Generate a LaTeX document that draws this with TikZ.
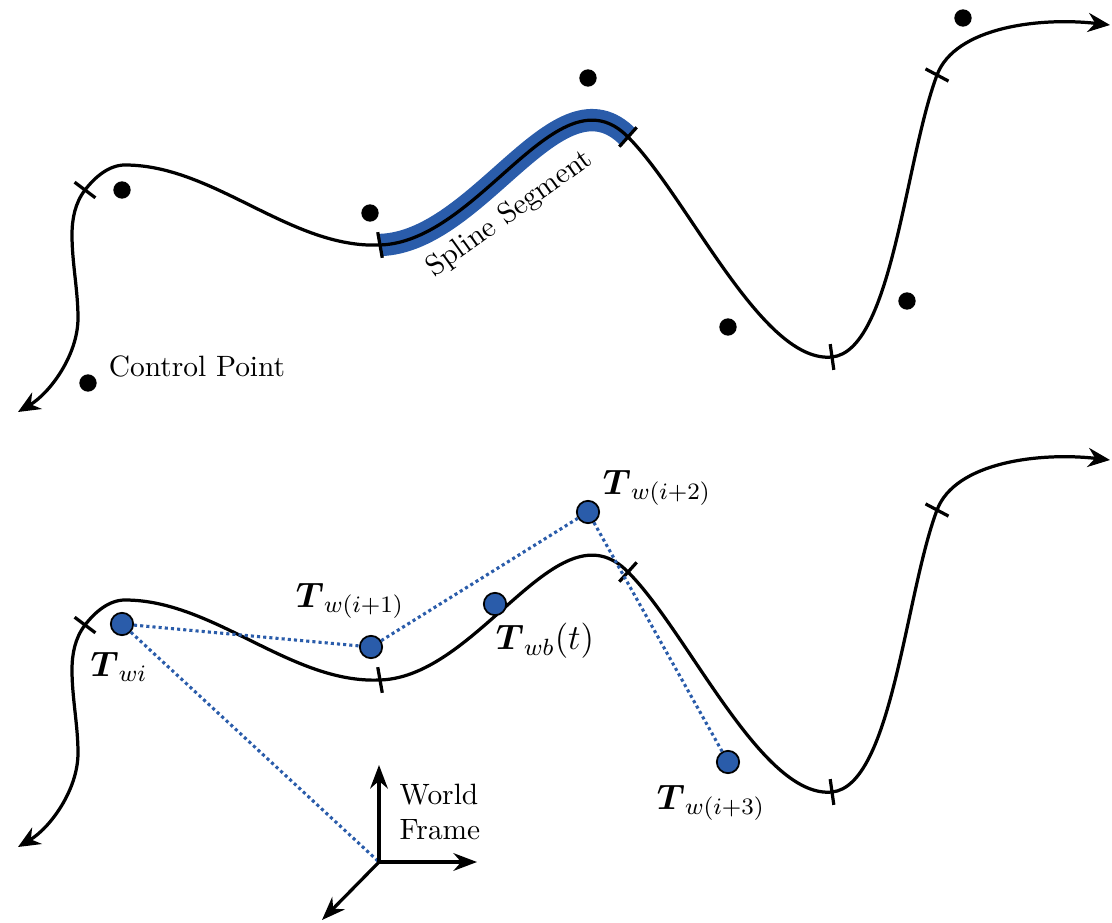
\documentclass[tikz,border=0pt]{standalone}
\usepackage{amsmath}
\usetikzlibrary{arrows.meta,calc}
\definecolor{segblue}{HTML}{2A5CAA}
\tikzset{
  curve/.style={line width=1.1pt, line join=round, {Stealth[length=7.5pt,width=6.5pt]}-{Stealth[length=7.5pt,width=6.5pt]}},
  knot/.style={line width=1.1pt},
  cpoint/.style={circle, fill=black, inner sep=0pt, minimum size=5.9pt},
  pose/.style={circle, fill=segblue, draw=black, line width=0.6pt, inner sep=0pt, minimum size=7.6pt},
  link/.style={segblue, line width=1.05pt, dash pattern=on 1.05pt off 1.05pt},
  axis/.style={line width=1.1pt, -{Stealth[length=8pt,width=6pt]}},
  lbl/.style={font=\large, inner sep=0pt}
}
\newcommand\drawspline[1]{%
  \coordinate (#1A) at (18,412);
  \coordinate (#1D) at (85,190);
  \coordinate (#1F) at (380,245);
  \coordinate (#1G) at (628,137);
  \coordinate (#1H) at (832,357);
  \coordinate (#1I) at (937,75);
  \coordinate (#1J) at (1110,25);
  \draw[curve] (#1A) .. controls (50,393) and (78,355) .. (78,318)
    .. controls (78,290) and (72,263) .. (72,235)
    .. controls (72,219) and (75,203) .. (#1D)
    .. controls (95,177) and (109,165) .. (125,165)
    .. controls (214,165) and (291,249) .. (#1F)
    .. controls (480,242) and (558,66) .. (#1G)
    .. controls (688,197) and (762,364) .. (#1H)
    .. controls (892,351) and (905,160) .. (#1I)
    .. controls (955,27) and (1040,17) .. (#1J);
  \draw[knot] (#1D) ++(36.9:13) -- ++(216.9:26);
  \draw[knot] (#1F) ++(80:13) -- ++(260:26);
  \draw[knot] (#1G) ++(-48:13) -- ++(132:26);
  \draw[knot] (#1H) ++(82:13) -- ++(262:26);
  \draw[knot] (#1I) ++(28:13) -- ++(208:26);
}
\begin{document}
\begin{tikzpicture}[x=0.34pt,y=-0.34pt]
\useasboundingbox (0,0) rectangle (1112,923);

% ---------- top: spline with control points ----------
\draw[segblue, line width=7.6pt] (380,245) .. controls (480,242) and (558,66) .. (628,137);
\drawspline{t}

\node[cpoint] (c1) at (88,383) {};
\node[cpoint] (c2) at (122,190) {};
\node[cpoint] (c3) at (370,213) {};
\node[cpoint] (c4) at (588,78) {};
\node[cpoint] (c5) at (728,327) {};
\node[cpoint] (c6) at (907,301) {};
\node[cpoint] (c7) at (963,18) {};

\node[inner sep=0pt] (cplabel) at (197,366) {Control Point};
\node[inner sep=0pt, rotate=35.7] (seglabel) at (510,214) {Spline Segment};

% ---------- bottom: poses ----------
\begin{scope}[shift={(0,435)}]
\drawspline{b}
\end{scope}

\coordinate (O) at (379,862);
\coordinate (Oz) at (379,765);
\coordinate (Ox) at (477,862);
\coordinate (Oy) at (322,920);

\node[pose] (Twi) at (122,624) {};
\node[pose] (Tw1) at (371,647) {};
\node[pose] (Twb) at (495,604) {};
\node[pose] (Tw2) at (588,512) {};
\node[pose] (Tw3) at (728,762) {};

\draw[link] (Twi) -- (Tw1);
\draw[link] (Tw1) -- (Tw2);
\draw[link] (Tw2) -- (Tw3);
\draw[link] (Twi) -- (O);

\node[lbl] (lwi) at (119,667) {$\boldsymbol{T}_{wi}$};
\node[lbl] (lw1) at (350,601) {$\boldsymbol{T}_{w(i+1)}$};
\node[lbl] (lwb) at (545,641) {$\boldsymbol{T}_{wb}(t)$};
\node[lbl] (lw2) at (657,488) {$\boldsymbol{T}_{w(i+2)}$};
\node[lbl] (lw3) at (711,803) {$\boldsymbol{T}_{w(i+3)}$};

\draw[axis] (O) -- (Oz);
\draw[axis] (O) -- (Ox);
\draw[axis] (O) -- (Oy);
\node[align=left, inner sep=0pt] (wf) at (440,812) {World\\Frame};
\end{tikzpicture}
\end{document}
